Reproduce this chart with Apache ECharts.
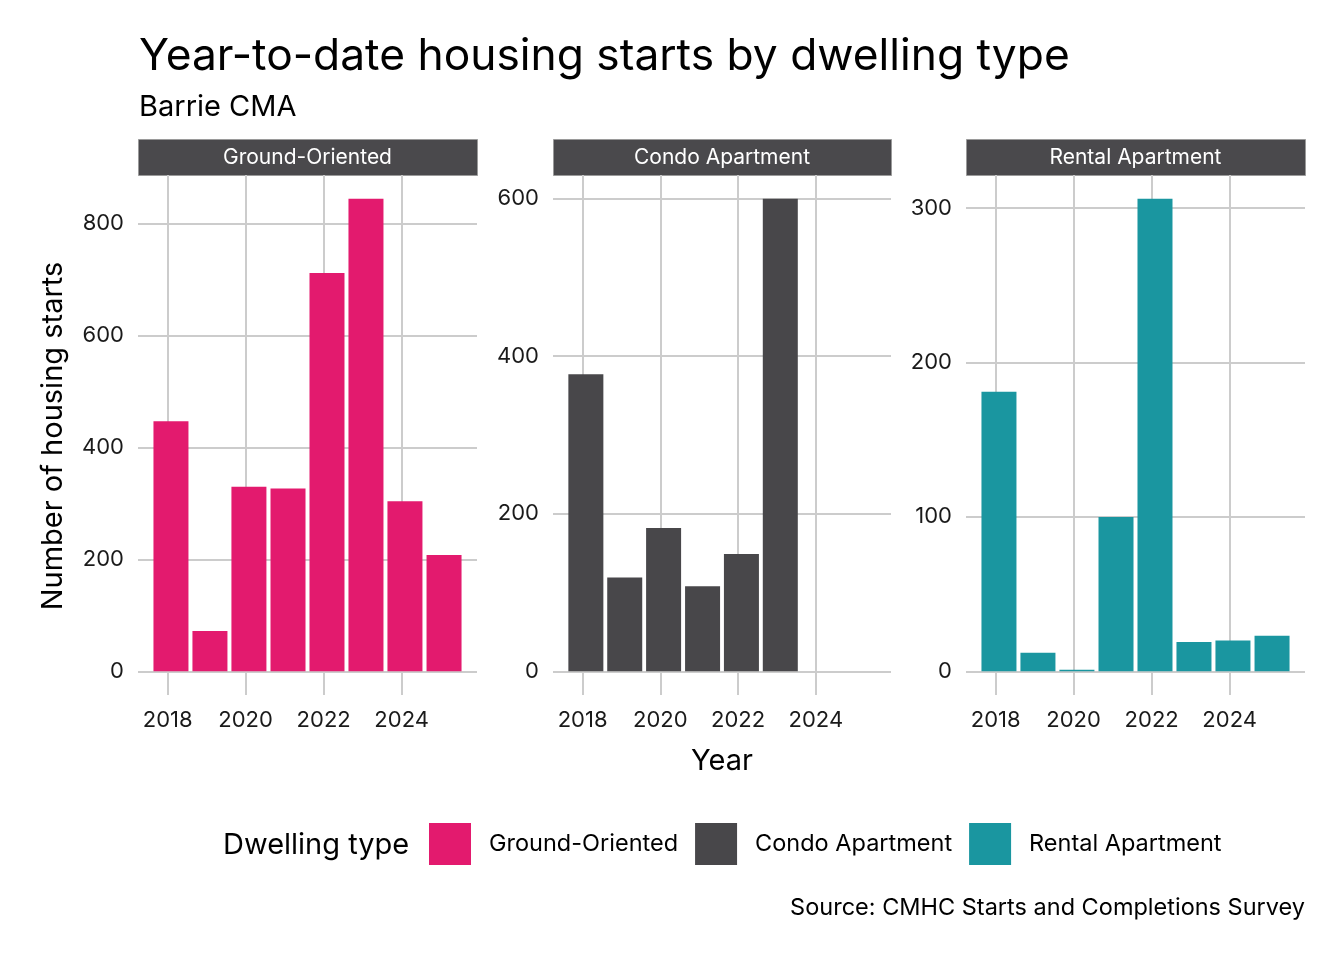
<!DOCTYPE html>
<html><head><meta charset="utf-8">
<script src="https://cdn.jsdelivr.net/npm/echarts@6/dist/echarts.min.js"></script>
<style>html,body{margin:0;padding:0;background:#fff}#c{width:1344px;height:960px}</style>
</head><body><div id="c"></div>
<script>
// Year-to-date periods (bars are placed at the reporting date of each year)
const periods = ['2018-02-01', '2019-02-01', '2020-02-01', '2021-02-01', '2022-02-01', '2023-02-01', '2024-02-01', '2025-02-01'];
const groundOriented = [447, 72, 330, 327, 712, 845, 304, 208];
const condoApartment = [377, 119, 182, 108, 149, 600, null, null];
const rentalApartment = [181, 12, 1, 100, 306, 19, 20, 23];
const seriesNames = ['Ground-Oriented', 'Condo Apartment', 'Rental Apartment'];
const xTickYears = [2018, 2020, 2022, 2024];
const yTicks1 = [0, 200, 400, 600, 800];
const yTicks2 = [0, 200, 400, 600];
const yTicks3 = [0, 100, 200, 300];
const colors = ['#E31A6E', '#48474A', '#1A96A0'];
const FONT = 'Inter, "Noto Sans", sans-serif';

const toTs = s => { const [y, m, d] = s.split('-').map(Number); return Date.UTC(y, m - 1, d); };
const periodTs = periods.map(toTs);
const xTickTs = xTickYears.map(y => Date.UTC(y, 0, 1));
const allSeries = [groundOriented, condoApartment, rentalApartment];
const yTicks = [yTicks1, yTicks2, yTicks3];
const panels = [
  {left: 138, width: 339},
  {left: 553, width: 338},
  {left: 966, width: 339}
];
const TOP = 175, BOTTOM = 695;
const YEAR_MS = 365.25 * 86400000;
const half = 0.45 * YEAR_MS;
const lo = periodTs[0] - half, hi = periodTs[periodTs.length - 1] + half;
const xmin = lo - 0.05 * (hi - lo), xmax = hi + 0.05 * (hi - lo);

const chart = echarts.init(document.getElementById('c'));
const grids = [], xAxes = [], yAxes = [], series = [], graphics = [];
panels.forEach((p, i) => {
  grids.push({left: p.left, width: p.width, top: TOP, height: BOTTOM - TOP, containLabel: false});
  const vals = allSeries[i].filter(v => v != null);
  const mx = Math.max(...vals);
  xAxes.push({
    type: 'value', gridIndex: i, min: xmin, max: xmax,
    axisLine: {show: false},
    axisTick: {show: false, customValues: xTickTs},
    axisLabel: {customValues: xTickTs, color: '#1a1a1a', fontFamily: FONT, fontSize: 22, margin: 14,
      formatter: v => String(new Date(v).getUTCFullYear())},
    splitLine: {show: true, lineStyle: {color: '#cccccc', width: 2}}
  });
  yAxes.push({
    type: 'value', gridIndex: i, min: -0.05 * mx, max: mx * 1.05,
    axisLine: {show: false},
    axisTick: {show: false, customValues: yTicks[i]},
    axisLabel: {customValues: yTicks[i], color: '#1a1a1a', fontFamily: FONT, fontSize: 22, margin: 14, formatter: v => String(v)},
    splitLine: {show: true, lineStyle: {color: '#cccccc', width: 2}}
  });
  series.push({
    name: seriesNames[i], type: 'bar', xAxisIndex: i, yAxisIndex: i,
    barWidth: 35,
    itemStyle: {color: colors[i]},
    data: periodTs.map((t, k) => [t, allSeries[i][k]]).filter(d => d[1] != null)
  });
  graphics.push({
    type: 'rect', left: p.left, top: 139, shape: {width: p.width, height: 36},
    style: {fill: '#4A494C', stroke: '#9a9a9a', lineWidth: 1}
  });
  graphics.push({
    type: 'text', x: p.left + p.width / 2, y: 158,
    style: {text: seriesNames[i], fill: '#ffffff', font: '21px ' + FONT, textAlign: 'center', textVerticalAlign: 'middle'}
  });
});

graphics.push(
  {type: 'text', x: 139, y: 57, style: {text: 'Year-to-date housing starts by dwelling type', fill: '#000', font: '44.3px ' + FONT, textVerticalAlign: 'middle'}},
  {type: 'text', x: 139, y: 107, style: {text: 'Barrie CMA', fill: '#000', font: '29px ' + FONT, textVerticalAlign: 'middle'}},
  {type: 'text', x: 53, y: 436, rotation: Math.PI / 2, style: {text: 'Number of housing starts', fill: '#000', font: '29px ' + FONT, textAlign: 'center', textVerticalAlign: 'middle'}},
  {type: 'text', x: 722, y: 761, style: {text: 'Year', fill: '#000', font: '29px ' + FONT, textAlign: 'center', textVerticalAlign: 'middle'}},
  {type: 'text', x: 223, y: 845, style: {text: 'Dwelling type', fill: '#000', font: '29px ' + FONT, textVerticalAlign: 'middle'}},
  {type: 'text', x: 1305, y: 908, style: {text: 'Source: CMHC Starts and Completions Survey', fill: '#000', font: '23.5px ' + FONT, textAlign: 'right', textVerticalAlign: 'middle'}}
);

chart.setOption({
  animation: false,
  backgroundColor: '#ffffff',
  textStyle: {fontFamily: FONT},
  grid: grids, xAxis: xAxes, yAxis: yAxes, series: series,
  legend: {
    left: 429, top: 823, padding: 0, itemWidth: 42, itemHeight: 42, itemGap: 17,
    icon: 'rect',
    data: seriesNames,
    textStyle: {fontSize: 23.5, color: '#000', fontFamily: FONT, padding: [0, 0, 0, 13]}
  },
  graphic: graphics
});
</script></body></html>
